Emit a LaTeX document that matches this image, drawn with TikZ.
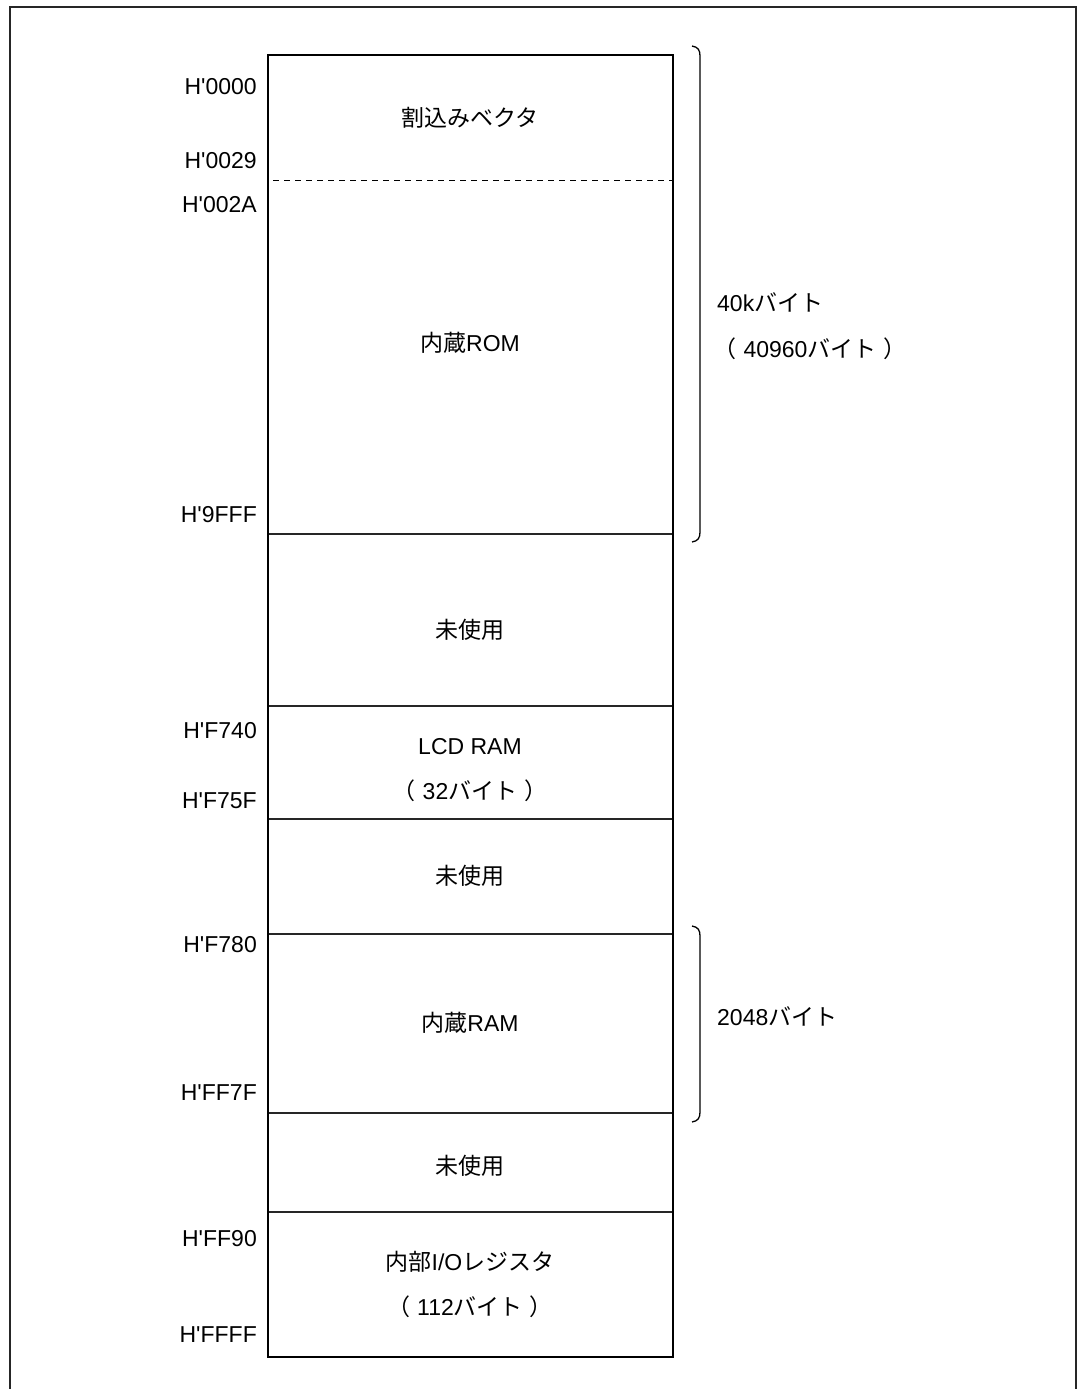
\documentclass[tikz,border=0pt]{standalone}
\usepackage{fontspec}
\setmainfont{Liberation Sans}[Ligatures=TeXOff]
\newfontfamily\jpfont{Noto Sans CJK JP}
\newcommand\J[1]{{\jpfont #1}}
\newcommand\Hq{H\char39 }
\newcommand\PO{\J{（}\hspace{7pt}}
\newcommand\PC{\hspace{7pt}\J{）}}
\begin{document}
\begin{tikzpicture}[x=1pt,y=-1pt,
  txt/.style={font=\fontsize{23}{27}\selectfont, inner sep=0pt},
  addr/.style={txt, anchor=base east},
  mid/.style={txt, anchor=base},
  side/.style={txt, anchor=base west},
  sep/.style={line width=1.2pt, black!85},
  outer/.style={line width=2.5pt},
  brace/.style={line width=1.3pt},
  frame/.style={line width=1.5pt, black!85}]
\useasboundingbox (0,0) rectangle (1077,1389);
% outer frame (open at bottom)
\draw[frame] (10,1389) -- (10,7) -- (1076,7) -- (1076,1389);

% memory map box corners
\coordinate (tl) at (268,55);
\coordinate (br) at (673,1357);

% separators
\coordinate (dL) at (268,180); \coordinate (dR) at (673,180);
\draw[line width=1pt, dash pattern=on 6pt off 5pt] ([xshift=5pt]dL) -- (dR);
\foreach \yy/\nm in {534/a,706/b,819/c,934/d,1113/e,1212/f}{
  \coordinate (\nm L) at (268,\yy); \coordinate (\nm R) at (673,\yy);
  \draw[sep] (\nm L) -- (\nm R);
}
\draw[outer] (tl) rectangle (br);

% address labels
\node[addr] (a0000) at (257,95) {\Hq0000};
\node[addr] (a0029) at (257,168.5) {\Hq0029};
\node[addr] (a002A) at (257,212) {\Hq002A};
\node[addr] (a9FFF) at (257,522.5) {\Hq9FFF};
\node[addr] (aF740) at (257,738.5) {\Hq F740};
\node[addr] (aF75F) at (257,808.5) {\Hq F75F};
\node[addr] (aF780) at (257,952.5) {\Hq F780};
\node[addr] (aFF7F) at (257,1100.5) {\Hq FF7F};
\node[addr] (aFF90) at (257,1246.5) {\Hq FF90};
\node[addr] (aFFFF) at (257,1342) {\Hq FFFF};

% region labels
\node[mid] (vec) at (470,126.5) {\J{割込みベクタ}};
\node[mid] (rom) at (470,351.5) {\J{内蔵}ROM};
\node[mid] (un1) at (470,638.5) {\J{未使用}};
\node[mid] (lcd) at (470,754.5) {LCD RAM};
\node[mid] (lcdsz) at (470,799.5) {\PO 32\J{バイト}\PC};
\node[mid] (un2) at (470,884.5) {\J{未使用}};
\node[mid] (ram) at (470,1031.5) {\J{内蔵}RAM};
\node[mid] (un3) at (470,1174.5) {\J{未使用}};
\node[mid] (io) at (470,1270.5) {\J{内部}I/O\J{レジスタ}};
\node[mid] (iosz) at (470,1315.5) {\PO 112\J{バイト}\PC};

% braces
\coordinate (b1t) at (692,46); \coordinate (b1b) at (692,542);
\draw[brace] (b1t) .. controls (698,47) and (700,50) .. (700,56) -- (700,532) .. controls (700,538) and (698,541) .. (b1b);
\coordinate (b2t) at (692,926); \coordinate (b2b) at (692,1122);
\draw[brace] (b2t) .. controls (698,927) and (700,930) .. (700,936) -- (700,1112) .. controls (700,1118) and (698,1121) .. (b2b);

% size labels
\node[side] (romsz) at (717,311.5) {40k\J{バイト}};
\node[mid] (romsz2) at (810,357.5) {\PO 40960\J{バイト}\PC};
\node[side] (ramsz) at (717,1025.5) {2048\J{バイト}};
\end{tikzpicture}
\end{document}
